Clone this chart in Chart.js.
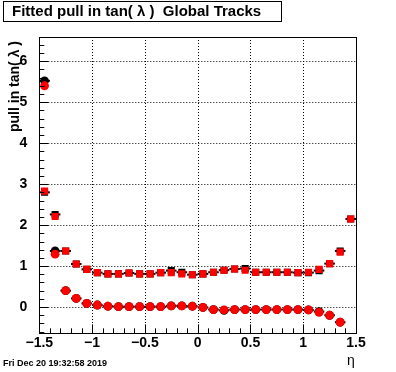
<!DOCTYPE html>
<html>
<head>
<meta charset="utf-8">
<script src="https://cdn.jsdelivr.net/npm/chart.js@4.4.1/dist/chart.umd.min.js"></script>
<style>
  html, body { margin: 0; padding: 0; background: #fff; }
  #wrap { width: 396px; height: 372px; }
</style>
</head>
<body>
<div id="wrap"><canvas id="pull-chart" width="396" height="372"></canvas></div>
<script>
// eta bin centres (bin width 0.1)
const etaBins = [
  -1.45, -1.35, -1.25, -1.15, -1.05, -0.95, -0.85, -0.75, -0.65, -0.55,
  -0.45, -0.35, -0.25, -0.15, -0.05, 0.05, 0.15, 0.25, 0.35, 0.45,
  0.55, 0.65, 0.75, 0.85, 0.95, 1.05, 1.15, 1.25, 1.35, 1.45,
];
const binHalfWidth = 0.05;

// red: current fit (circles = mean, squares = sigma)
const redMean = [
  5.40, 1.29, 0.40, 0.21, 0.09, 0.05, 0.02, 0.01, 0.01, 0.01,
  0.01, 0.01, 0.03, 0.03, 0.02, -0.01, -0.06, -0.07, -0.06, -0.06,
  -0.06, -0.06, -0.06, -0.06, -0.06, -0.07, -0.13, -0.20, -0.37, null,
];
const redSigma = [
  2.83, 2.21, 1.37, 1.05, 0.92, 0.84, 0.81, 0.81, 0.83, 0.81,
  0.81, 0.84, 0.84, 0.81, 0.79, 0.81, 0.85, 0.90, 0.93, 0.90,
  0.85, 0.85, 0.85, 0.85, 0.84, 0.85, 0.92, 1.06, 1.34, 2.15,
];

// black: reference fit, drawn underneath with bin-width bars
const blackMean = [
  5.52, 1.37, 0.40, 0.21, 0.09, 0.05, 0.02, 0.01, 0.01, 0.01,
  0.01, 0.01, 0.03, 0.03, 0.02, -0.01, -0.06, -0.08, -0.06, -0.06,
  -0.06, -0.06, -0.06, -0.06, -0.06, -0.07, -0.11, -0.20, -0.37, null,
];
const blackSigma = [
  2.80, 2.26, 1.37, 1.05, 0.92, 0.84, 0.81, 0.81, 0.83, 0.81,
  0.81, 0.84, 0.89, 0.85, 0.79, 0.81, 0.85, 0.90, 0.93, 0.94,
  0.85, 0.85, 0.85, 0.85, 0.84, 0.84, 0.89, 1.06, 1.37, 2.15,
];

const xTickValues = [-1.5, -1, -0.5, 0, 0.5, 1, 1.5];
const xTickText = ['\u22121.5', '\u22121', '\u22120.5', '0', '0.5', '1', '1.5'];
const yTickValues = [0, 1, 2, 3, 4, 5, 6];
const yTickText = ['0', '1', '2', '3', '4', '5', '6'];

const titleText = 'Fitted pull in tan( \u03bb )  Global Tracks';
const yTitleText = 'pull in tan( \u03bb )';
const xTitleText = '\u03b7';
const dateText = 'Fri Dec 20 19:32:58 2019';

const FONT = '"Liberation Sans", Arial, Helvetica, sans-serif';

function toPoints(values) {
  return etaBins.map((x, i) => ({ x, y: values[i] })).filter((p) => p.y !== null);
}

const rootStyle = {
  id: 'rootStyle',
  beforeDraw(chart) {
    const { ctx } = chart;
    ctx.save();
    ctx.fillStyle = '#fff';
    ctx.fillRect(0, 0, chart.width, chart.height);
    ctx.restore();
  },
  beforeDatasetsDraw(chart) {
    const { ctx, chartArea: a, scales: { x, y } } = chart;
    ctx.save();
    // dotted grid at major ticks
    ctx.strokeStyle = '#000';
    ctx.lineWidth = 1;
    ctx.setLineDash([1, 2]);
    xTickValues.forEach((v) => {
      if (v <= x.min || v >= x.max) return;
      const px = Math.round(x.getPixelForValue(v)) + 0.5;
      ctx.beginPath(); ctx.moveTo(px, a.top); ctx.lineTo(px, a.bottom); ctx.stroke();
    });
    yTickValues.forEach((v) => {
      const py = Math.round(y.getPixelForValue(v)) + 0.5;
      ctx.beginPath(); ctx.moveTo(a.left, py); ctx.lineTo(a.right, py); ctx.stroke();
    });
    ctx.setLineDash([]);

    // horizontal bin-width bars for the black series
    ctx.lineWidth = 2;
    [blackMean, blackSigma].forEach((vals) => {
      vals.forEach((v, i) => {
        if (v === null) return;
        const py = y.getPixelForValue(v);
        const x0 = x.getPixelForValue(etaBins[i] - binHalfWidth);
        const x1 = x.getPixelForValue(etaBins[i] + binHalfWidth);
        ctx.beginPath(); ctx.moveTo(x0, py); ctx.lineTo(x1, py); ctx.stroke();
      });
    });
    ctx.restore();
  },
  afterDatasetsDraw(chart) {
    const { ctx, chartArea: a, scales: { x, y } } = chart;
    ctx.save();
    ctx.strokeStyle = '#000';
    ctx.lineWidth = 1;

    // ticks on the inside of the frame
    ctx.beginPath();
    for (let k = -15; k <= 15; k++) {
      const v = k / 10;
      const px = Math.round(x.getPixelForValue(v)) + 0.5;
      const len = k % 5 === 0 ? 9 : 5;
      ctx.moveTo(px, a.bottom); ctx.lineTo(px, a.bottom - len);
    }
    for (let k = -3; k <= 32; k++) {
      const v = k / 5;
      if (v < y.min || v > y.max) continue;
      const py = Math.round(y.getPixelForValue(v)) + 0.5;
      const len = k % 5 === 0 ? 9 : 5;
      ctx.moveTo(a.left, py); ctx.lineTo(a.left + len, py);
    }
    ctx.stroke();

    // frame
    ctx.strokeRect(Math.round(a.left) + 0.5, Math.round(a.top) + 0.5,
      Math.round(a.right - a.left), Math.round(a.bottom - a.top));

    // title box
    ctx.fillStyle = '#000';
    ctx.strokeRect(3.5, 1.5, 278, 20);
    ctx.font = `bold 15px ${FONT}`;
    ctx.textBaseline = 'middle';
    ctx.textAlign = 'left';
    ctx.fillText(titleText, 12, 12);

    // y axis title, rotated, aligned to the top
    ctx.save();
    ctx.translate(15, a.top + 4);
    ctx.rotate(-Math.PI / 2);
    ctx.font = `bold 14px ${FONT}`;
    ctx.textAlign = 'right';
    ctx.textBaseline = 'middle';
    ctx.fillText(yTitleText, 0, 0);
    ctx.restore();

    // x axis title
    ctx.font = `14px ${FONT}`;
    ctx.textAlign = 'center';
    ctx.textBaseline = 'middle';
    ctx.fillText(xTitleText, 351, 361);

    // date stamp
    ctx.font = `bold 9px ${FONT}`;
    ctx.textAlign = 'left';
    ctx.fillText(dateText, 3, 364);
    ctx.restore();
  },
};

new Chart(document.getElementById('pull-chart'), {
  type: 'scatter',
  data: {
    datasets: [
      { label: 'mean', data: toPoints(redMean), pointStyle: 'circle', pointRadius: 4.4,
        backgroundColor: '#ff0000', borderColor: '#ff0000', borderWidth: 0, order: 0 },
      { label: 'sigma', data: toPoints(redSigma), pointStyle: 'rect', pointRadius: 5,
        backgroundColor: '#ff0000', borderColor: '#ff0000', borderWidth: 0, order: 1 },
      { label: 'mean ref', data: toPoints(blackMean), pointStyle: 'circle', pointRadius: 4.4,
        backgroundColor: '#000', borderColor: '#000', borderWidth: 0, order: 2 },
      { label: 'sigma ref', data: toPoints(blackSigma), pointStyle: 'rect', pointRadius: 5,
        backgroundColor: '#000', borderColor: '#000', borderWidth: 0, order: 3 },
    ],
  },
  options: {
    responsive: false,
    animation: false,
    events: [],
    layout: { padding: { left: 0, right: 40, top: 37, bottom: 0 } },
    plugins: {
      legend: { display: false },
      tooltip: { enabled: false },
    },
    scales: {
      x: {
        type: 'linear',
        min: -1.5,
        max: 1.5,
        grid: { display: false },
        border: { display: false },
        afterFit: (s) => { s.height = 38.7; },
        afterBuildTicks: (s) => { s.ticks = xTickValues.map((value) => ({ value })); },
        ticks: {
          color: '#000',
          padding: -7,
          maxRotation: 0,
          autoSkip: false,
          font: { family: FONT, weight: 'bold', size: 14 },
          callback: (v, i) => xTickText[i],
        },
      },
      y: {
        type: 'linear',
        min: -0.64,
        max: 6.59,
        grid: { display: false },
        border: { display: false },
        afterFit: (s) => { s.width = 39.3; },
        afterBuildTicks: (s) => { s.ticks = yTickValues.map((value) => ({ value })); },
        ticks: {
          color: '#000',
          padding: 4,
          autoSkip: false,
          font: { family: FONT, weight: 'bold', size: 14 },
          callback: (v, i) => yTickText[i],
        },
      },
    },
  },
  plugins: [rootStyle],
});
</script>
</body>
</html>
